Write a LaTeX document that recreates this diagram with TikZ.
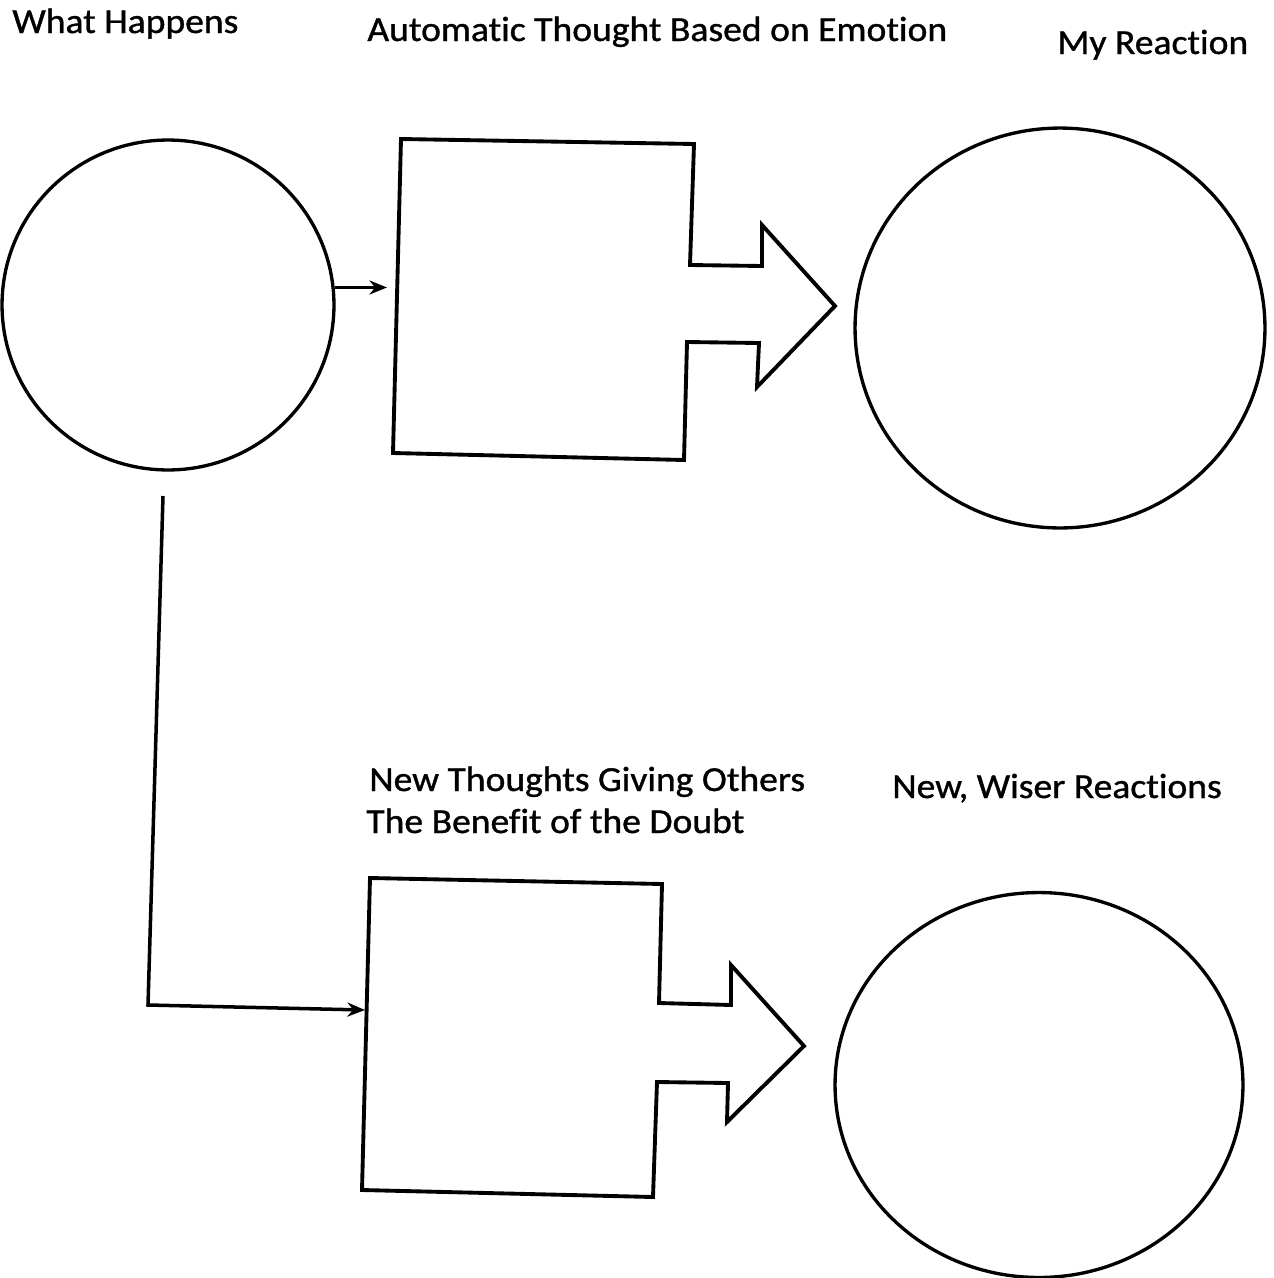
\documentclass[tikz,border=0pt]{standalone}
\usepackage{fontspec}
\setmainfont{Carlito}[FakeStretch=1.07,FakeBold=1,Ligatures=NoCommon]
\usetikzlibrary{shapes.geometric,arrows.meta}
\begin{document}
\begin{tikzpicture}[x=0.02cm,y=-0.02cm,
  lbl/.style={anchor=base west,inner sep=0pt,font=\fontsize{20}{24}\selectfont},
  ring/.style={draw,ellipse,line width=1.9pt,inner sep=0pt},
  blockarrow/.style={draw,line width=2.2pt,line join=miter},
  conn/.style={line width=2pt,-{Stealth[length=10pt,width=8pt]}}]
\useasboundingbox[fill=white] (0,0) rectangle (1274,1278);

% labels
\node[lbl] (t1) at (12,33) {What Happens};
\node[lbl] (t2) at (367,41) {Automatic Thought Based on Emotion};
\node[lbl] (t3) at (1057,54) {My Reaction};
\node[lbl] (t4) at (369,791) {New Thoughts Giving Others};
\node[lbl] (t5) at (366,833) {The Benefit of the Doubt};
\node[lbl] (t6) at (892,798) {New, Wiser Reactions};

% circles
\node[ring,minimum width=6.64cm,minimum height=6.6cm] (c1) at (168,305) {};
\node[ring,minimum width=8.2cm,minimum height=8cm] (c2) at (1060,328) {};
\node[ring,minimum width=8.16cm,minimum height=7.7cm] (c3) at (1039,1085) {};

% block arrow 1
\draw[blockarrow] (401,139) coordinate (b1tl) -- (694,144) -- (690,265) -- (762,266)
  -- (762,225) -- (835,306) coordinate (b1tip) -- (757,387) -- (759,343) -- (687,342)
  -- (684,460) -- (393,453) -- cycle;
\coordinate (b1in) at (387,286);

% block arrow 2
\draw[blockarrow] (370,878) coordinate (b2tl) -- (662,884) -- (659,1003) -- (731,1005)
  -- (731,965) -- (804,1046) coordinate (b2tip) -- (727,1122) -- (728,1083) -- (657,1082)
  -- (653,1197) -- (362,1190) -- cycle;
\coordinate (b2in) at (365,1010);

% connectors
\draw[conn] (c1.6.6) -- (c1.6.6 -| b1in);
\coordinate (d0) at (163,496);
\coordinate (d1) at (148,1005);
\draw[conn] (d0) -- (d1) -- (b2in);
\end{tikzpicture}
\end{document}
